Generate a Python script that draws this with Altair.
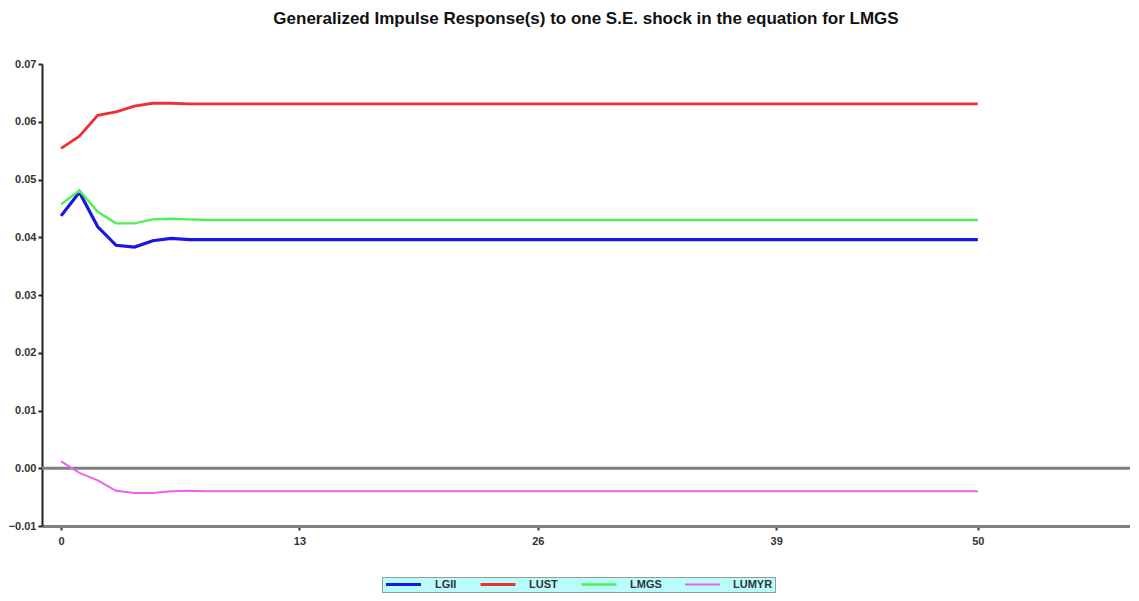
import altair as alt
import pandas as pd

series_names = ["LGII", "LUST", "LMGS", "LUMYR"]
series_colors = ["#1818e0", "#f03030", "#50f050", "#f060f0"]
series_widths = [3.2, 2, 2, 2]

periods = list(range(51))
lgii = [0.0437, 0.0478, 0.0418, 0.0386, 0.0383, 0.0394, 0.0398, 0.0396] + [0.0396] * 43
lust = [0.0554, 0.0575, 0.0611, 0.0617, 0.0627, 0.0632, 0.0632, 0.0631] + [0.0631] * 43
lmgs = [0.0457, 0.0481, 0.0444, 0.0424, 0.0424, 0.0431, 0.0432, 0.0431] + [0.0430] * 43
lumyr = [0.0012, -0.0008, -0.0021, -0.0039, -0.0043, -0.0043, -0.0040, -0.0039] + [-0.0040] * 43

x_ticks = [0, 13, 26, 39, 50]
y_ticks = [-0.01, -0.005, 0.0, 0.005, 0.01, 0.015, 0.02, 0.025, 0.03, 0.035,
           0.04, 0.045, 0.05, 0.055, 0.06, 0.065, 0.07]

title_text = "Generalized Impulse Response(s) to one S.E. shock in the equation for LMGS"

rows = []
for name, vals in zip(series_names, [lgii, lust, lmgs, lumyr]):
    for p, v in zip(periods, vals):
        rows.append({"period": p, "value": v, "series": name})
df = pd.DataFrame(rows)

FONT = "Liberation Sans"

x_enc = alt.X(
    "period:Q",
    scale=alt.Scale(domain=[-1.04, 58.3], nice=False, zero=False),
    axis=alt.Axis(values=x_ticks, title=None, grid=False, domainColor="#808080",
                  domainWidth=3, tickColor="#333333", tickSize=4, tickWidth=2,
                  labelFont=FONT, labelFontSize=11, labelFontWeight="bold",
                  labelColor="#333333", labelPadding=5),
)
y_enc = alt.Y(
    "value:Q",
    scale=alt.Scale(domain=[-0.01, 0.07], nice=False, zero=False),
    axis=alt.Axis(values=y_ticks, title=None, grid=False, domainColor="#222222",
                  domainWidth=2, tickColor="#222222", tickSize=4, tickWidth=2,
                  labelExpr="round(datum.value*1000) % 10 != 0 ? '' : format(datum.value, '.2f')",
                  labelFont=FONT, labelFontSize=11, labelFontWeight="bold",
                  labelColor="#333333", labelPadding=2),
)

zero_rule = alt.Chart(pd.DataFrame({"y": [0.0]})).mark_rule(
    color="#808080", strokeWidth=3
).encode(y=alt.Y("y:Q", scale=alt.Scale(domain=[-0.01, 0.07], nice=False)))

lines = alt.Chart(df).mark_line(clip=True).encode(
    x=x_enc,
    y=y_enc,
    color=alt.Color(
        "series:N",
        sort=series_names,
        scale=alt.Scale(domain=series_names, range=series_colors),
        legend=alt.Legend(
            title=None, orient="none", legendX=340, legendY=513,
            direction="horizontal", fillColor="#b8fcfc", strokeColor="#999999",
            padding=2, symbolType="stroke", symbolSize=1225, symbolStrokeWidth=3,
            clipHeight=11,
            labelFont=FONT, labelFontSize=11, labelFontWeight="bold",
            labelColor="#333333", columnPadding=22, labelOffset=12,
        ),
    ),
    strokeWidth=alt.StrokeWidth(
        "series:N", scale=alt.Scale(domain=series_names, range=series_widths), legend=None
    ),
    detail="series:N",
)

chart = alt.layer(zero_rule, lines).properties(
    width=1088,
    height=462,
    autosize=alt.AutoSizeParams(type="none"),
    padding={"left": 34, "top": 56, "right": 0, "bottom": 67},
    background="white",
    title=alt.Title(title_text, font=FONT, fontSize=17, fontWeight="bold",
                    color="#111111", anchor="middle", offset=30),
).configure_view(stroke=None)

chart.save("out.html", embed_options={"renderer": "svg", "actions": False})
